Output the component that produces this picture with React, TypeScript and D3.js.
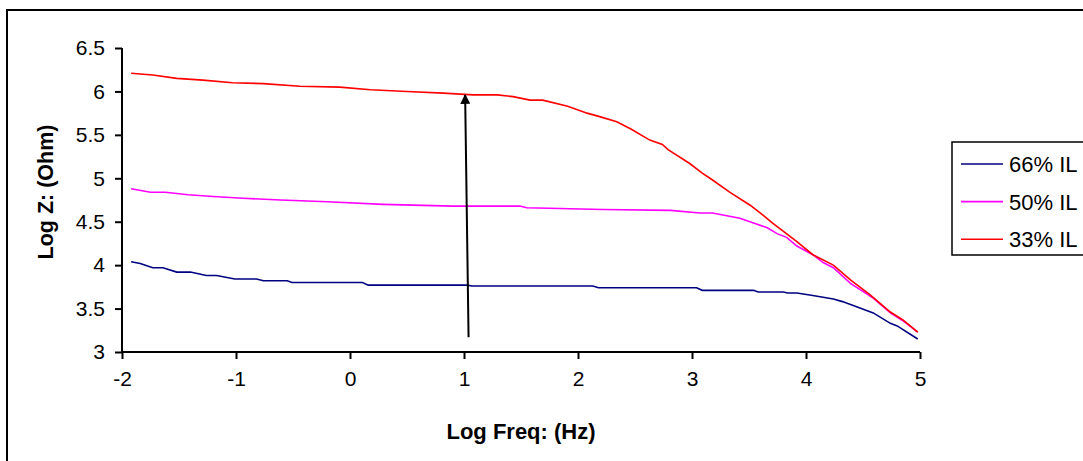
import React, { useRef, useEffect } from "react";
import * as d3 from "d3";

// [log freq, log Z]
const il66 = [
  [-1.92, 4.04], [-1.84, 4.02], [-1.73, 3.97], [-1.64, 3.97], [-1.52, 3.92], [-1.4, 3.92],
  [-1.26, 3.88], [-1.17, 3.88], [-1.01, 3.84], [-0.82, 3.84], [-0.76, 3.82], [-0.55, 3.82],
  [-0.51, 3.8], [0.11, 3.8], [0.16, 3.77], [1.03, 3.77], [1.07, 3.76], [2.13, 3.76],
  [2.18, 3.74], [3.04, 3.74], [3.09, 3.71], [3.54, 3.71], [3.58, 3.69], [3.8, 3.69],
  [3.84, 3.68], [3.92, 3.68], [4.06, 3.65], [4.24, 3.61], [4.32, 3.58], [4.59, 3.45],
  [4.74, 3.33], [4.8, 3.3], [4.98, 3.15],
];
const il50 = [
  [-1.92, 4.88], [-1.75, 4.84], [-1.62, 4.84], [-1.42, 4.81], [-1.2, 4.79], [-0.94, 4.77],
  [-0.61, 4.75], [-0.2, 4.73], [0.29, 4.7], [0.9, 4.68], [1.49, 4.68], [1.55, 4.66],
  [2.22, 4.64], [2.81, 4.63], [3.07, 4.6], [3.18, 4.6], [3.42, 4.54], [3.66, 4.43],
  [3.75, 4.36], [3.83, 4.32], [3.92, 4.22], [4.06, 4.12], [4.15, 4.03], [4.24, 3.97],
  [4.39, 3.79], [4.59, 3.62], [4.74, 3.45], [4.85, 3.36], [4.98, 3.23],
];
const il33 = [
  [-1.92, 6.21], [-1.73, 6.19], [-1.52, 6.15], [-1.29, 6.13], [-1.03, 6.1], [-0.76, 6.09],
  [-0.44, 6.06], [-0.09, 6.05], [0.18, 6.02], [0.5, 6.0], [0.82, 5.98], [1.08, 5.96],
  [1.29, 5.96], [1.43, 5.94], [1.58, 5.9], [1.69, 5.9], [1.91, 5.83], [2.08, 5.75],
  [2.19, 5.71], [2.34, 5.65], [2.46, 5.57], [2.63, 5.44], [2.74, 5.39], [2.79, 5.33],
  [2.98, 5.17], [3.09, 5.06], [3.18, 4.98], [3.33, 4.84], [3.51, 4.69], [3.62, 4.58],
  [3.71, 4.48], [3.92, 4.27], [4.06, 4.12], [4.24, 4.0], [4.39, 3.83], [4.56, 3.66],
  [4.74, 3.46], [4.85, 3.37], [4.98, 3.23],
];

const seriesNames = ["66% IL", "50% IL", "33% IL"];
const seriesColors = ["#000080", "#ff00ff", "#ff0000"];
const xTicks = [-2, -1, 0, 1, 2, 3, 4, 5];
const yTicks = [3, 3.5, 4, 4.5, 5, 5.5, 6, 6.5];
// arrow from / to, in data units
const arrowFrom = [1.04, 3.17];
const arrowTo = [1.01, 5.96];

export default function App() {
  const svgRef = useRef(null);

  useEffect(() => {
    const width = 1083;
    const height = 461;
    const font = "'Liberation Sans', Arial, sans-serif";

    const svg = d3.select(svgRef.current);
    svg.selectAll("*").remove();
    svg.attr("width", width).attr("height", height);

    svg.append("rect").attr("width", width).attr("height", height).attr("fill", "#fff");

    // outer frame (right and bottom edges fall outside the picture)
    svg.append("rect")
      .attr("x", 7).attr("y", 10)
      .attr("width", 1200).attr("height", 600)
      .attr("fill", "none").attr("stroke", "#000").attr("stroke-width", 2);

    const x = d3.scaleLinear().domain([-2, 5]).range([122, 920]);
    const y = d3.scaleLinear().domain([3, 6.5]).range([352, 48]);

    const defs = svg.append("defs");
    defs.append("marker")
      .attr("id", "arrowHead")
      .attr("viewBox", "0 0 10 10")
      .attr("refX", 9).attr("refY", 5)
      .attr("markerWidth", 5).attr("markerHeight", 5)
      .attr("markerUnits", "strokeWidth")
      .attr("orient", "auto")
      .append("path").attr("d", "M0,0 L10,5 L0,10 z").attr("fill", "#000");

    // series lines
    const line = d3.line().x((d) => x(d[0])).y((d) => y(d[1]));
    [il66, il50, il33].forEach((data, i) => {
      svg.append("path")
        .attr("d", line(data))
        .attr("fill", "none")
        .attr("stroke", seriesColors[i])
        .attr("stroke-width", 1.6);
    });

    // axes
    const fmt = (d) => String(d);
    const yAxis = svg.append("g")
      .attr("transform", `translate(${x(-2)},0)`)
      .call(d3.axisLeft(y).tickValues(yTicks).tickSize(7).tickPadding(10).tickFormat(fmt));
    const xAxis = svg.append("g")
      .attr("transform", `translate(0,${y(3)})`)
      .call(d3.axisBottom(x).tickValues(xTicks).tickSize(7).tickPadding(12).tickFormat(fmt));

    [xAxis, yAxis].forEach((g) => {
      g.select(".domain").attr("stroke", "#000").attr("stroke-width", 2);
      g.selectAll(".tick line").attr("stroke", "#000").attr("stroke-width", 2);
      g.selectAll(".tick text")
        .attr("fill", "#000")
        .style("font-family", font)
        .style("font-size", "21px");
    });
    yAxis.select(".domain").attr("d", `M-0,${y(6.5)}V${y(3)}`);
    xAxis.select(".domain").attr("d", `M${x(-2)},0H${x(5)}`);

    // arrow
    svg.append("line")
      .attr("x1", x(arrowFrom[0])).attr("y1", y(arrowFrom[1]))
      .attr("x2", x(arrowTo[0])).attr("y2", y(arrowTo[1]))
      .attr("stroke", "#000").attr("stroke-width", 2)
      .attr("marker-end", "url(#arrowHead)");

    // axis titles
    svg.append("text")
      .attr("x", (x(-2) + x(5)) / 2).attr("y", 439)
      .attr("text-anchor", "middle")
      .style("font-family", font).style("font-size", "22px").style("font-weight", "bold")
      .text("Log Freq: (Hz)");

    svg.append("text")
      .attr("transform", "translate(53,192) rotate(-90)")
      .attr("text-anchor", "middle")
      .style("font-family", font).style("font-size", "21.5px").style("font-weight", "bold")
      .text("Log Z: (Ohm)");

    // legend
    const legend = svg.append("g").attr("transform", "translate(952,142)");
    legend.append("rect")
      .attr("width", 200).attr("height", 113)
      .attr("fill", "#fff").attr("stroke", "#000").attr("stroke-width", 1.5);
    seriesNames.forEach((name, i) => {
      const cy = 22 + i * 37.6;
      legend.append("line")
        .attr("x1", 9).attr("x2", 51).attr("y1", cy).attr("y2", cy)
        .attr("stroke", seriesColors[i]).attr("stroke-width", 1.6);
      legend.append("text")
        .attr("x", 57).attr("y", cy).attr("dy", "0.36em")
        .style("font-family", font).style("font-size", "22px")
        .text(name);
    });
  }, []);

  return <svg ref={svgRef} style={{ position: "absolute", left: 0, top: 0 }}></svg>;
}
